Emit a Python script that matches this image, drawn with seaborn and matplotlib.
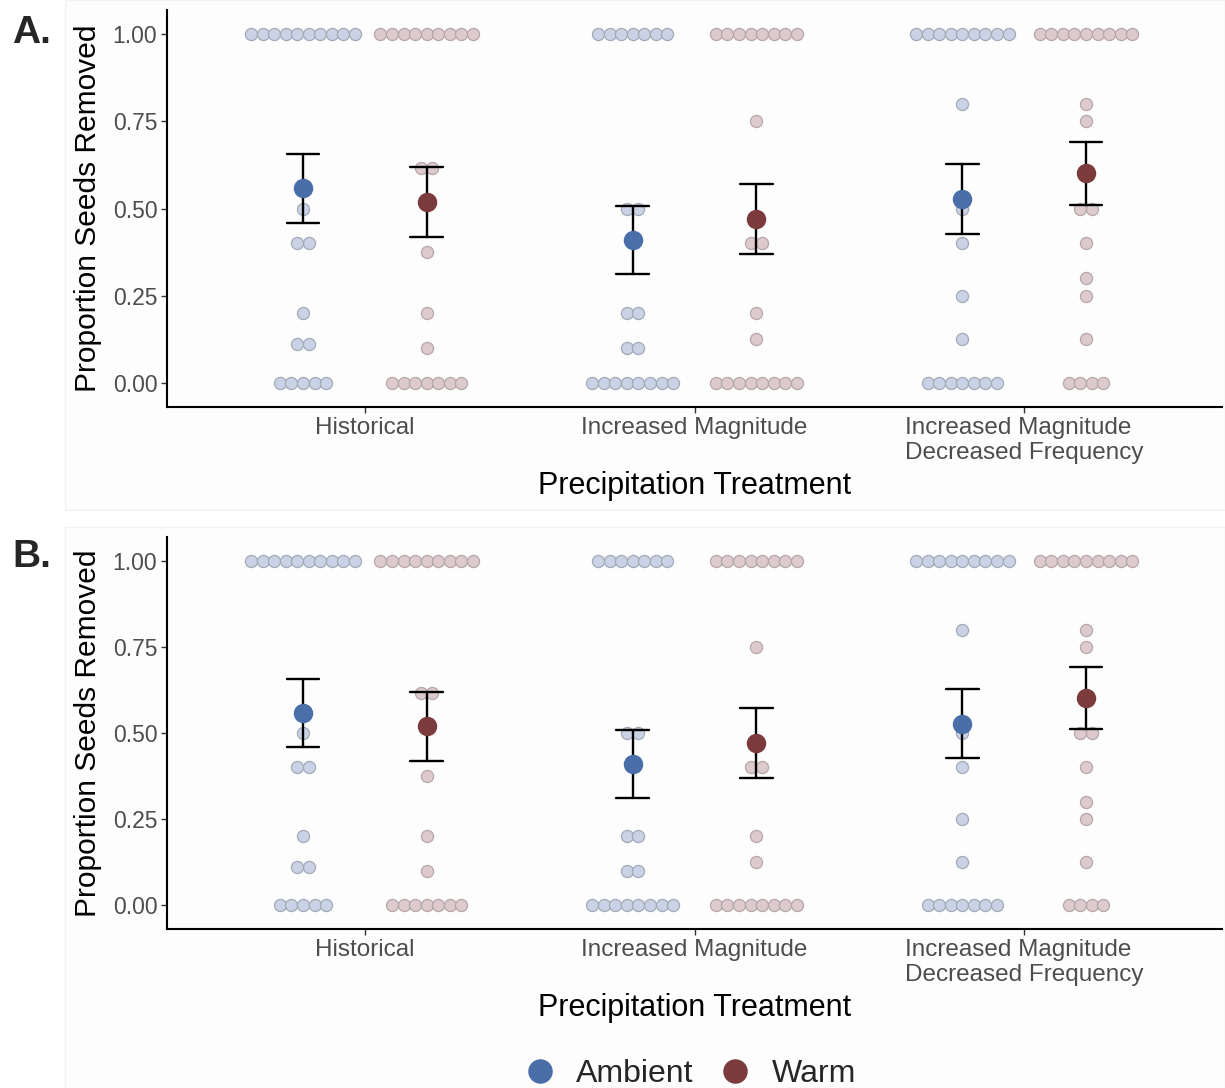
import numpy as np
import pandas as pd
import matplotlib
matplotlib.use("Agg")
import matplotlib.pyplot as plt
from matplotlib.patches import Rectangle
import seaborn as sns

# ---- data -------------------------------------------------------------
treatments = ["Historical", "Increased Magnitude",
              "Increased Magnitude\nDecreased Frequency"]
temps = ["Ambient", "Warm"]

hist_ambient = [1, 1, 1, 1, 1, 1, 1, 1, 1, 1, 0.5, 0.4, 0.4, 0.2, 0.111, 0.111,
                0, 0, 0, 0, 0]
hist_warm = [1, 1, 1, 1, 1, 1, 1, 1, 1, 0.615, 0.615, 0.375, 0.2, 0.1,
             0, 0, 0, 0, 0, 0, 0]
incmag_ambient = [1, 1, 1, 1, 1, 1, 1, 0.5, 0.5, 0.2, 0.2, 0.1, 0.1,
                  0, 0, 0, 0, 0, 0, 0, 0]
incmag_warm = [1, 1, 1, 1, 1, 1, 1, 1, 0.75, 0.4, 0.4, 0.2, 0.125,
               0, 0, 0, 0, 0, 0, 0, 0]
imdf_ambient = [1, 1, 1, 1, 1, 1, 1, 1, 1, 0.8, 0.5, 0.4, 0.25, 0.125,
                0, 0, 0, 0, 0, 0, 0]
imdf_warm = [1, 1, 1, 1, 1, 1, 1, 1, 1, 0.8, 0.75, 0.5, 0.5, 0.4, 0.3, 0.25, 0.125,
             0, 0, 0, 0]

groups = {
    (treatments[0], "Ambient"): hist_ambient,
    (treatments[0], "Warm"): hist_warm,
    (treatments[1], "Ambient"): incmag_ambient,
    (treatments[1], "Warm"): incmag_warm,
    (treatments[2], "Ambient"): imdf_ambient,
    (treatments[2], "Warm"): imdf_warm,
}

y_ticks = [0.0, 0.25, 0.5, 0.75, 1.0]
y_ticklabels = ["0.00", "0.25", "0.50", "0.75", "1.00"]

# ---- styling ------------------------------------------------------------
mean_colors = {"Ambient": "#4a6ea8", "Warm": "#7b3b3c"}
dot_fill = {"Ambient": "#c9d3e5", "Warm": "#dccacd"}
dot_edge = {"Ambient": "#a2aab8", "Warm": "#b6a6a9"}
DODGE = 0.375          # total spread between the two temperature levels
DOT_STEP = 0.035       # horizontal spacing of stacked dots (category units)

sns.set_theme(style="white")
plt.rcParams["font.family"] = ["Liberation Sans", "DejaVu Sans"]

rows = []
for (trt, tmp), vals in groups.items():
    for v in vals:
        rows.append({"treatment": trt, "temp": tmp, "value": v})
df = pd.DataFrame(rows)


def stack_offsets(values, step):
    """Centered horizontal stacking of identical values (dot-plot style)."""
    vals = np.asarray(values, dtype=float)
    off = np.zeros(len(vals))
    for v in np.unique(vals):
        idx = np.where(vals == v)[0]
        off[idx] = (np.arange(len(idx)) - (len(idx) - 1) / 2) * step
    return off


def draw_panel(ax):
    sns.pointplot(data=df, x="treatment", y="value", hue="temp",
                  order=treatments, hue_order=temps, palette=mean_colors,
                  errorbar="se", dodge=DODGE, linestyle="none", markers="o",
                  markersize=12, capsize=0.1,
                  err_kws={"color": "black", "linewidth": 1.7}, ax=ax)
    # raw observations stacked behind the means
    for ti, tmp in enumerate(temps):
        shift = (ti - 0.5) * DODGE
        for ci, trt in enumerate(treatments):
            sub = df[(df.treatment == trt) & (df.temp == tmp)]
            xs = ci + shift + stack_offsets(sub["value"], DOT_STEP)
            sns.scatterplot(x=xs, y=sub["value"].to_numpy(), color=dot_fill[tmp],
                            edgecolor=dot_edge[tmp], linewidth=0.9, s=76,
                            ax=ax, zorder=1, legend=False)
    for ln in ax.lines:
        if ln.get_marker() == "o":
            ln.set_zorder(4)
        else:
            ln.set_zorder(3)

    ax.set_xlim(-0.6, 2.6)
    ax.set_ylim(-0.069, 1.069)
    ax.set_yticks(y_ticks)
    ax.set_yticklabels(y_ticklabels)
    ax.set_xticks(range(len(treatments)))
    ax.set_xticklabels(treatments)
    for lbl in ax.get_xticklabels():
        lbl.set_multialignment("left")
    ax.tick_params(axis="both", which="major", length=4, width=1,
                   color="#333333", labelcolor="#4d4d4d", labelsize=16.5,
                   left=True, bottom=True, pad=3)
    ax.tick_params(axis="x", labelsize=17.5)
    sns.despine(ax=ax)
    for side in ("left", "bottom"):
        ax.spines[side].set_color("black")
        ax.spines[side].set_linewidth(1.5)
    ax.set_facecolor("none")
    ax.set_xlabel("Precipitation Treatment", fontsize=22, color="black", labelpad=5)
    ax.set_ylabel("Proportion Seeds Removed", fontsize=21.5, color="black", labelpad=8)


fig = plt.figure(figsize=(12.25, 10.88), dpi=100)
fig.patch.set_facecolor("white")
fig.add_artist(Rectangle((65 / 1225, 1 - 510 / 1088), 1 - 65 / 1225, 510 / 1088,
                         transform=fig.transFigure, facecolor="#fdfdfd",
                         edgecolor="#f2f2f2", linewidth=1, zorder=0))
fig.add_artist(Rectangle((65 / 1225, 0), 1 - 65 / 1225, 1 - 527 / 1088,
                         transform=fig.transFigure, facecolor="#fdfdfd",
                         edgecolor="#f2f2f2", linewidth=1, zorder=0))

ax_a = fig.add_axes([167 / 1225, 1 - 407 / 1088, 1055 / 1225, 397 / 1088])
ax_b = fig.add_axes([167 / 1225, 1 - 929 / 1088, 1055 / 1225, 392 / 1088])

draw_panel(ax_a)
draw_panel(ax_b)

handles, labels = ax_a.get_legend_handles_labels()
for ax in (ax_a, ax_b):
    if ax.get_legend() is not None:
        ax.get_legend().remove()

fig.legend(handles, labels, loc="center", bbox_to_anchor=(690 / 1225, 1 - 1074 / 1088),
           ncol=2, frameon=False, fontsize=23, markerscale=1.3, handlelength=1.0,
           handletextpad=0.65, columnspacing=0.8)

fig.text(12 / 1225, 1 - 33 / 1088, "A.", fontsize=28, fontweight="bold",
         ha="left", va="center")
fig.text(12 / 1225, 1 - 557 / 1088, "B.", fontsize=28, fontweight="bold",
         ha="left", va="center")

fig.savefig("out.png", dpi=100, facecolor="white")
